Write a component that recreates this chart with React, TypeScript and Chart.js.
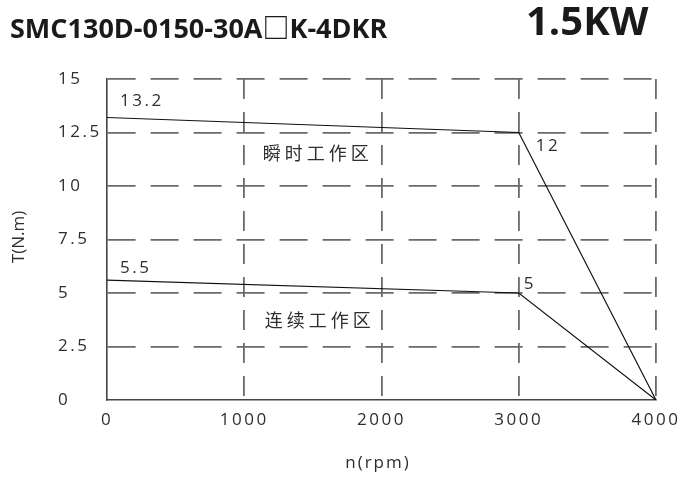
import React, { useEffect, useRef } from "react";
import { Chart, registerables } from "chart.js";

Chart.register(...registerables);

// ---- data ----
const speedRpm = [0, 3000, 4000];
const peakTorque = [13.2, 12.5, 0];
const ratedTorque = [5.6, 5, 0];
const peakLabels = ["13.2", "12"];
const ratedLabels = ["5.5", "5"];
const xTickValues = [0, 1000, 2000, 3000, 4000];
const xTickLabels = ["0", "1000", "2000", "3000", "4000"];
const yTickValues = [0, 2.5, 5, 7.5, 10, 12.5, 15];
const yTickLabels = ["0", "2.5", "5", "7.5", "10", "12.5", "15"];
const zoneLabels = ["瞬时工作区", "连续工作区"];
const modelTitle = "SMC130D-0150-30A□K-4DKR";
const powerTitle = "1.5KW";
const xAxisTitle = "n(rpm)";
const yAxisTitle = "T(N.m)";

const FONT = "'Open Sans', 'Noto Sans CJK SC', sans-serif";
const TEXT = "#2e2e2e";

const textPlugin = {
  id: "customText",
  beforeUpdate(chart: any) {
    chart.ctx.letterSpacing = "2.5px";
  },
  beforeDraw(chart: any) {
    chart.ctx.letterSpacing = "2.5px";
  },
  afterDraw(chart: any) {
    const ctx = chart.ctx;
    const xs = chart.scales.x;
    const ys = chart.scales.y;
    const px = (v: number) => xs.getPixelForValue(v);
    const py = (v: number) => ys.getPixelForValue(v);

    const put = (
      s: string,
      x: number,
      y: number,
      font: string,
      color: string,
      align: CanvasTextAlign,
      baseline: CanvasTextBaseline,
      ls: string
    ) => {
      ctx.save();
      ctx.font = font;
      ctx.fillStyle = color;
      ctx.textAlign = align;
      ctx.textBaseline = baseline;
      (ctx as any).letterSpacing = ls;
      ctx.fillText(s, x, y);
      ctx.restore();
    };

    // titles
    put(modelTitle, 10, 38, `bold 27px ${FONT}`, "#1a1a1a", "left", "alphabetic", "0px");
    put(powerTitle, 526, 35, `bold 40px ${FONT}`, "#1a1a1a", "left", "alphabetic", "0px");

    // axis titles
    put(xAxisTitle, 378, 463, `17px ${FONT}`, TEXT, "center", "middle", "2px");
    ctx.save();
    ctx.translate(19, 237);
    ctx.rotate(-Math.PI / 2);
    ctx.font = `17px ${FONT}`;
    ctx.fillStyle = TEXT;
    ctx.textAlign = "center";
    ctx.textBaseline = "middle";
    (ctx as any).letterSpacing = "0px";
    ctx.fillText(yAxisTitle, 0, 0);
    ctx.restore();

    // value annotations next to the curve corners
    const f = `17px ${FONT}`;
    put(peakLabels[0], px(speedRpm[0]) + 13, py(peakTorque[0]) - 16, f, TEXT, "left", "middle", "2.5px");
    put(peakLabels[1], px(speedRpm[1]) + 17, py(peakTorque[1]) + 14, f, TEXT, "left", "middle", "2.5px");
    put(ratedLabels[0], px(speedRpm[0]) + 13, py(ratedTorque[0]) - 12, f, TEXT, "left", "middle", "2.5px");
    put(ratedLabels[1], px(speedRpm[1]) + 5, py(ratedTorque[1]) - 9, f, TEXT, "left", "middle", "2.5px");

    // zone labels
    const zf = `18px ${FONT}`;
    put(zoneLabels[0], px(1535), py(11.45), zf, TEXT, "center", "middle", "4px");
    put(zoneLabels[1], px(1550), py(3.64), zf, TEXT, "center", "middle", "4px");
  },
};

export default function App() {
  const ref = useRef<HTMLCanvasElement | null>(null);

  useEffect(() => {
    document.body.style.margin = "0";
    const canvas = ref.current;
    if (!canvas) return;

    const gridColor = (c: any) =>
      c.tick && c.tick.value === 0 ? "rgba(0,0,0,0)" : "#6a6a6a";

    const chart = new Chart(canvas, {
      type: "line",
      data: {
        datasets: [
          {
            label: "peak",
            data: speedRpm.map((x, i) => ({ x, y: peakTorque[i] })),
            borderColor: "#111111",
            borderWidth: 1.2,
            pointRadius: 0,
            tension: 0,
            fill: false,
          },
          {
            label: "rated",
            data: speedRpm.map((x, i) => ({ x, y: ratedTorque[i] })),
            borderColor: "#111111",
            borderWidth: 1.2,
            pointRadius: 0,
            tension: 0,
            fill: false,
          },
        ],
      },
      options: {
        animation: false,
        responsive: false,
        devicePixelRatio: 1,
        layout: { padding: { left: 58, right: 29, top: 79, bottom: 0 } },
        plugins: {
          legend: { display: false },
          tooltip: { enabled: false },
          title: { display: false },
        },
        scales: {
          x: {
            type: "linear",
            min: 0,
            max: 4000,
            afterBuildTicks: (s: any) => {
              s.ticks = xTickValues.map((v) => ({ value: v }));
            },
            afterFit: (s: any) => {
              s.height = 77;
              s.paddingLeft = 0;
              s.paddingRight = 0;
            },
            ticks: {
              padding: 10,
              color: TEXT,
              font: { family: FONT, size: 17 },
              maxRotation: 0,
              autoSkip: false,
              callback: (v: any) => xTickLabels[xTickValues.indexOf(Number(v))] ?? "",
            },
            grid: {
              color: gridColor,
              lineWidth: 1.8,
              drawTicks: false,
            },
            border: { display: true, color: "#444444", width: 1.6, dash: [20, 13] },
          },
          y: {
            type: "linear",
            min: 0,
            max: 15,
            afterBuildTicks: (s: any) => {
              s.ticks = yTickValues.map((v) => ({ value: v }));
            },
            afterFit: (s: any) => {
              s.width = 49;
              s.paddingTop = 0;
              s.paddingBottom = 0;
            },
            ticks: {
              padding: 6,
              crossAlign: "far",
              color: TEXT,
              font: { family: FONT, size: 17 },
              autoSkip: false,
              callback: (v: any) => yTickLabels[yTickValues.indexOf(Number(v))] ?? "",
            },
            grid: {
              color: gridColor,
              lineWidth: 1.8,
              drawTicks: false,
            },
            border: { display: true, color: "#444444", width: 1.6, dash: [28, 15] },
          },
        },
      },
      plugins: [textPlugin],
    } as any);

    return () => chart.destroy();
  }, []);

  return (
    <div style={{ width: 685, height: 477, background: "#ffffff" }}>
      <canvas ref={ref} width={685} height={477} style={{ display: "block", width: 685, height: 477 }} />
    </div>
  );
}
